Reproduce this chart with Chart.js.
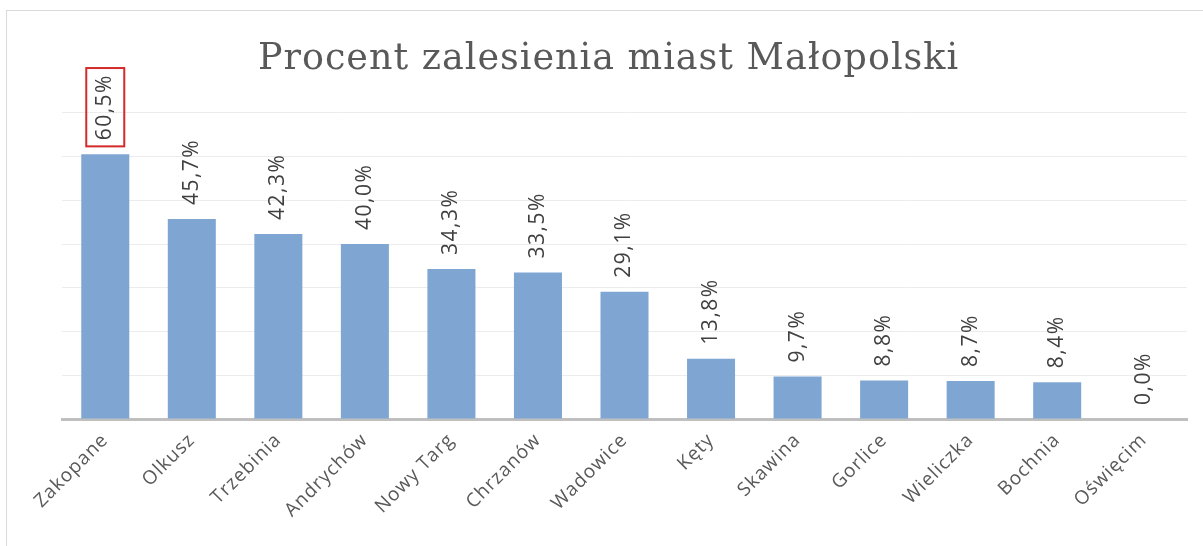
<!DOCTYPE html>
<html>
<head>
<meta charset="utf-8">
<script src="https://cdn.jsdelivr.net/npm/chart.js@4.4.0/dist/chart.umd.min.js"></script>
<style>
  body { margin: 0; background: #fff; }
  #wrap { position: relative; width: 1203px; height: 546px; }
  #frame { position: absolute; left: 6px; top: 10px; right: 0; bottom: 0;
           border-left: 1px solid #d9d9d9; border-top: 1px solid #d9d9d9; pointer-events: none; }
</style>
</head>
<body>
<div id="wrap">
  <canvas id="chart" width="1203" height="546"></canvas>
  <div id="frame"></div>
</div>
<script>
const cities = ['Zakopane', 'Olkusz', 'Trzebinia', 'Andrychów', 'Nowy Targ', 'Chrzanów', 'Wadowice',
    'Kęty', 'Skawina', 'Gorlice', 'Wieliczka', 'Bochnia', 'Oświęcim'];
const forestPct = [60.5, 45.7, 42.3, 40.0, 34.3, 33.5, 29.1, 13.8, 9.7, 8.8, 8.7, 8.4, 0.0];
const yMax = 70;
const yStep = 10;
const titleText = 'Procent zalesienia miast Małopolski';

// a bit of letter spacing for all text, the original is rendered quite loose
const spacing = {
    id: 'spacing',
    beforeDraw(chart) {
        chart.ctx.letterSpacing = '1px';
    }
};

// value labels, rotated, above each bar (plus the red marker box round the first one)
const barLabels = {
    id: 'barLabels',
    afterDatasetsDraw(chart) {
        const ctx = chart.ctx;
        const meta = chart.getDatasetMeta(0);
        ctx.save();
        ctx.font = '21px "Open Sans"';
        ctx.letterSpacing = '1.5px';
        ctx.fillStyle = '#404040';
        ctx.textAlign = 'left';
        ctx.textBaseline = 'middle';
        meta.data.forEach((bar, i) => {
            const txt = forestPct[i].toFixed(1).replace('.', ',') + '%';
            const y0 = bar.y - 14;
            ctx.save();
            ctx.translate(bar.x, y0);
            ctx.rotate(-Math.PI / 2);
            ctx.fillText(txt, 0, 0);
            ctx.restore();
            if (i === 0) {
                const w = ctx.measureText(txt).width;
                ctx.save();
                ctx.strokeStyle = '#d42a2a';
                ctx.lineWidth = 2;
                ctx.strokeRect(bar.x - 19, y0 - w - 6, 38, w + 12);
                ctx.restore();
            }
        });
        ctx.restore();
    }
};

new Chart(document.getElementById('chart'), {
    type: 'bar',
    data: {
        labels: cities,
        datasets: [{
            data: forestPct,
            backgroundColor: '#7fa6d3',
            categoryPercentage: 1,
            barPercentage: 0.555,
        }]
    },
    options: {
        responsive: false,
        animation: false,
        layout: { padding: { top: 0, right: 16, bottom: 0, left: 30 } },
        plugins: {
            legend: { display: false },
            tooltip: { enabled: false },
            title: {
                display: true,
                text: titleText,
                color: '#595959',
                font: { family: '"DejaVu Serif"', size: 36.5, weight: 'normal', lineHeight: 1.2 },
                padding: { top: 38, bottom: 31 },
            },
        },
        scales: {
            x: {
                grid: { display: false },
                border: { color: '#bfbfbf', width: 3 },
                ticks: {
                    maxRotation: 45,
                    minRotation: 45,
                    autoSkip: false,
                    color: '#595959',
                    font: { family: '"Open Sans"', size: 19 },
                    padding: 2,
                },
                afterFit: (s) => { s.height = 127; },
            },
            y: {
                min: 0,
                max: yMax,
                ticks: { display: false, stepSize: yStep },
                grid: { color: '#ececec', drawTicks: false },
                border: { display: false },
                afterFit: (s) => { s.width = 32; },
            }
        }
    },
    plugins: [spacing, barLabels]
});
</script>
</body>
</html>
